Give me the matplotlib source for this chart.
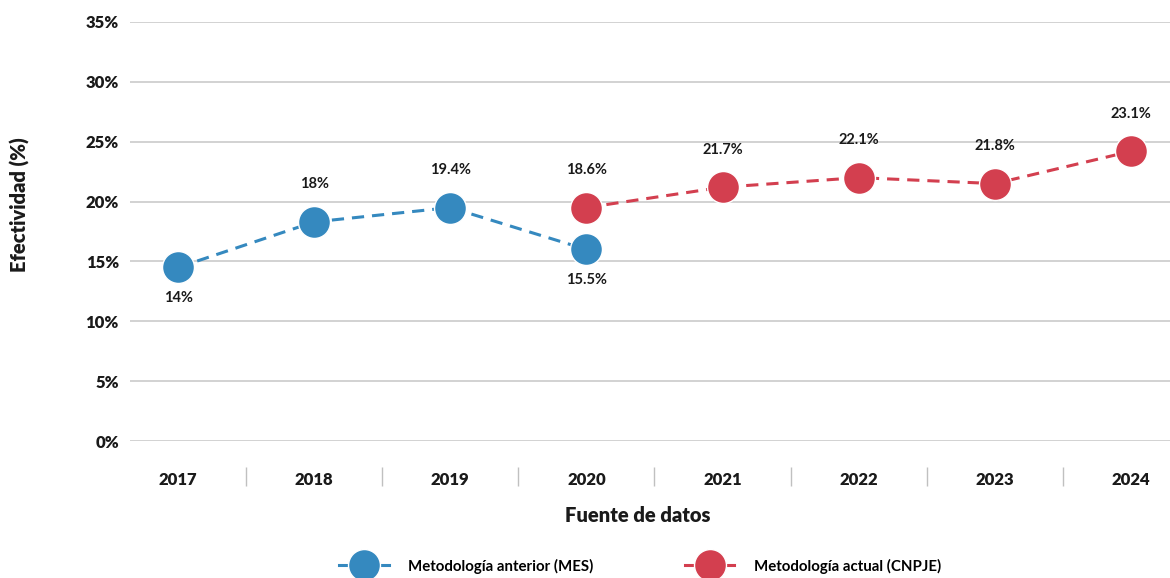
import numpy as np
import matplotlib
matplotlib.use("Agg")
import matplotlib.pyplot as plt
from matplotlib.lines import Line2D

years = ["2017", "2018", "2019", "2020", "2021", "2022", "2023", "2024"]
mes_idx = [0, 1, 2, 3]
mes_vals = [14.5, 18.3, 19.5, 16.0]
mes_labels = ["14%", "18%", "19.4%", "15.5%"]
mes_pos = ["below", "above", "above", "below"]
cnpje_idx = [3, 4, 5, 6, 7]
cnpje_vals = [19.5, 21.2, 22.0, 21.5, 24.2]
cnpje_labels = ["18.6%", "21.7%", "22.1%", "21.8%", "23.1%"]
cnpje_pos = ["above"] * 5
yticks = [0, 5, 10, 15, 20, 25, 30, 35]

blue = "#3589bf"
red = "#d33f4f"
txt = "#1a1a1a"

plt.rcParams["font.family"] = ["Lato", "DejaVu Sans"]

fig = plt.figure(figsize=(11.7, 5.78), dpi=100)
ax = fig.add_axes([130 / 1170, 1 - 441 / 578, 1040 / 1170, 419 / 578])

for yv in yticks:
    ax.axhline(yv, color="#d2d2d2", lw=1.4, zorder=0)

style = dict(ls=(0, (4, 2.6)), lw=2.2, marker="o", ms=23,
             markeredgecolor="white", markeredgewidth=1, zorder=3)
ax.plot(mes_idx, mes_vals, color=blue, **style)
ax.plot(cnpje_idx, cnpje_vals, color=red, **style)

for xs, vs, ls, ps in [(mes_idx, mes_vals, mes_labels, mes_pos),
                       (cnpje_idx, cnpje_vals, cnpje_labels, cnpje_pos)]:
    for x, v, l, p in zip(xs, vs, ls, ps):
        off = 27 if p == "above" else -22
        ax.annotate(l, (x, v), xytext=(0, off), textcoords="offset points",
                    ha="center", va="center", fontsize=10.5, fontweight="bold",
                    color=txt)

ax.set_xlim(-0.353, 7.287)
ax.set_ylim(0, 35)
ax.set_yticks(yticks)
ax.set_yticklabels([f"{v}%" for v in yticks])
ax.set_xticks(range(len(years)))
ax.set_xticklabels(years)
ax.tick_params(axis="both", length=0, labelsize=12, labelcolor=txt)
ax.tick_params(axis="y", pad=8)
ax.tick_params(axis="x", pad=22)
for lab in ax.get_xticklabels() + ax.get_yticklabels():
    lab.set_fontweight("heavy")
for s in ax.spines.values():
    s.set_visible(False)

# separators between year categories
trans = ax.get_xaxis_transform()
ax.vlines(np.arange(len(years) - 1) + 0.5, -0.107, -0.062, transform=trans,
          color="#c0c0c0", lw=1, clip_on=False)

fig.text(20 / 1170, 1 - 205 / 578, "Efectividad (%)", rotation=90,
         ha="center", va="center", fontsize=14.5, fontweight="heavy", color=txt)
fig.text(638 / 1170, 1 - 516 / 578, "Fuente de datos", ha="center",
         va="center", fontsize=14.5, fontweight="heavy", color=txt)

handles = [
    Line2D([], [], color=blue, lw=2.2, marker="o", ms=23,
           markeredgecolor="white", markeredgewidth=1),
    Line2D([], [], color=red, lw=2.2, marker="o", ms=23,
           markeredgecolor="white", markeredgewidth=1),
]
fig.legend(handles, ["Metodología anterior (MES)", "Metodología actual (CNPJE)"],
           loc="center", bbox_to_anchor=(640 / 1170, 1 - 566 / 578), ncol=2,
           frameon=False, handlelength=3.3, columnspacing=6.1,
           handletextpad=1.3, prop={"weight": "bold", "size": 10.8})

fig.savefig("out.png", dpi=100)
